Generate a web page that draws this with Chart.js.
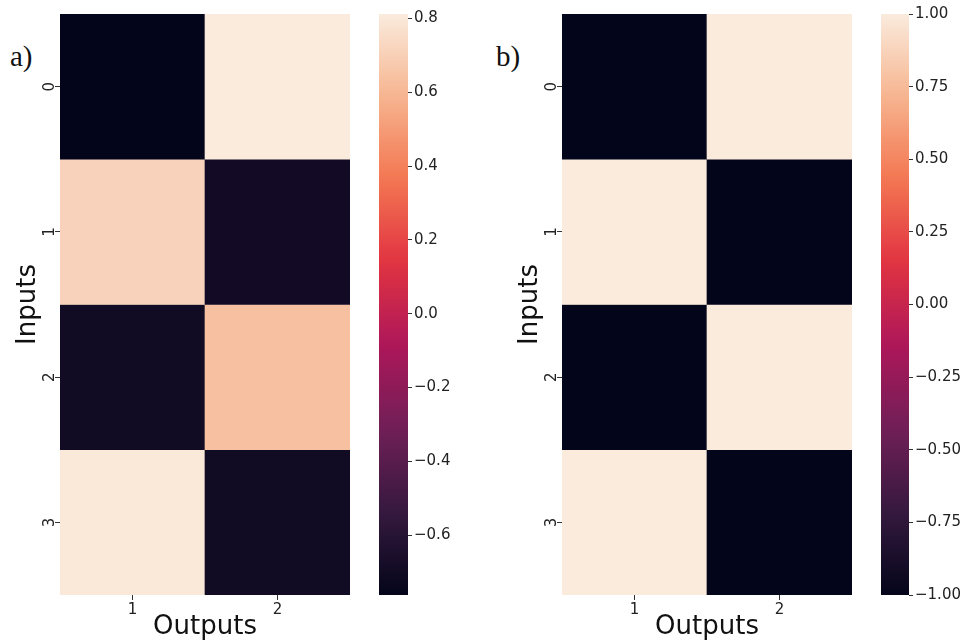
<!DOCTYPE html>
<html>
<head>
<meta charset="utf-8">
<script src="https://cdn.jsdelivr.net/npm/chart.js@4.4.0/dist/chart.umd.min.js"></script>
<style>
body{margin:0;background:#fff;width:965px;height:644px;position:relative;overflow:hidden;}
canvas{position:absolute;top:0;}
.tag{position:absolute;font-family:"Liberation Serif";font-size:29px;color:#111;}
</style>
</head>
<body>
<div class="tag" style="left:10px;top:40px">a)</div>
<div class="tag" style="left:496px;top:40px">b)</div>
<canvas id="heatA" width="355" height="644" style="left:0"></canvas>
<canvas id="barA" width="100" height="644" style="left:370px"></canvas>
<canvas id="heatB" width="355" height="644" style="left:502px"></canvas>
<canvas id="barB" width="93" height="644" style="left:872px"></canvas>
<script>
// heatmap labels and values (rows = inputs, columns = outputs)
const outputs = ["1", "2"];
const inputs = ["0", "1", "2", "3"];
const valsA = [[-0.76, 0.81], [0.71, -0.69], [-0.70, 0.64], [0.80, -0.70]];
const valsB = [[-1, 1], [1, -1], [-1, 1], [1, -1]];
const rangeA = [-0.762, 0.812];
const rangeB = [-1, 1];
const cbTicksA = [-0.6, -0.4, -0.2, 0, 0.2, 0.4, 0.6, 0.8];
const cbTicksB = [-1, -0.75, -0.5, -0.25, 0, 0.25, 0.5, 0.75, 1];

// seaborn "rocket" colormap, rough
const rocketStops = ["#03051a", "#35193e", "#701f57", "#ad1759", "#e13342", "#f37651", "#f6b48f", "#faebdd"];

function hex2rgb(h){
    return [parseInt(h.slice(1,3),16), parseInt(h.slice(3,5),16), parseInt(h.slice(5,7),16)];
}

function rocket(t){
    t = Math.min(1, Math.max(0, t));
    let n = rocketStops.length - 1;
    let i = Math.min(n - 1, Math.floor(t * n));
    let f = t * n - i;
    let a = hex2rgb(rocketStops[i]);
    let b = hex2rgb(rocketStops[i+1]);
    let c = a.map((x, k) => Math.round(x + (b[k] - x) * f));
    return "rgb(" + c.join(",") + ")";
}

const tickFont = {family: "DejaVu Sans", size: 15};
const titleFont = {family: "DejaVu Sans", size: 26};

function heatmap(id, vals, range){
    const datasets = inputs.map((row, r) => ({
        label: "Input " + row,
        data: outputs.map(() => [r, r + 1]),
        backgroundColor: vals[r].map(v => rocket((v - range[0]) / (range[1] - range[0]))),
        borderWidth: 0,
        grouped: false,
        categoryPercentage: 1,
        barPercentage: 1
    }));

    new Chart(document.getElementById(id), {
        type: "bar",
        data: {labels: outputs, datasets: datasets},
        options: {
            responsive: false,
            animation: false,
            layout: {padding: {top: 14, right: 5, left: 0, bottom: 0}},
            plugins: {legend: {display: false}, tooltip: {enabled: false}},
            scales: {
                x: {
                    grid: {offset: false, drawOnChartArea: false, tickLength: 5, color: "#333"},
                    border: {display: false},
                    ticks: {font: tickFont, color: "#222", padding: 1},
                    title: {display: true, text: "Outputs", font: titleFont, color: "#111", padding: {top: 0, bottom: 1}},
                    afterFit: s => { s.height = 49; }
                },
                y: {
                    min: 0,
                    max: 4,
                    reverse: true,
                    afterBuildTicks: s => { s.ticks = inputs.map((t, i) => ({value: i + 0.5})); },
                    grid: {drawOnChartArea: false, tickLength: 5, color: "#333"},
                    border: {display: false},
                    ticks: {font: tickFont, color: "#222", padding: 0, minRotation: 90, maxRotation: 90,
                        crossAlign: "center", callback: (v, i) => inputs[i]},
                    title: {display: true, text: "Inputs", font: titleFont, color: "#111", padding: {top: 13, bottom: 0}},
                    afterFit: s => { s.width = 60; }
                }
            }
        }
    });
}

function colorbar(id, range, tickVals, digits, axisW){
    new Chart(document.getElementById(id), {
        type: "bar",
        data: {
            labels: [""],
            datasets: [{
                data: [range],
                borderWidth: 0,
                categoryPercentage: 1,
                barPercentage: 1,
                backgroundColor: c => {
                    const a = c.chart.chartArea;
                    if (!a) return null;
                    const g = c.chart.ctx.createLinearGradient(0, a.bottom, 0, a.top);
                    for (let k = 0; k <= 40; k++) g.addColorStop(k / 40, rocket(k / 40));
                    return g;
                }
            }]
        },
        options: {
            responsive: false,
            animation: false,
            layout: {padding: {top: 14, bottom: 49, left: 9, right: 0}},
            plugins: {legend: {display: false}, tooltip: {enabled: false}},
            scales: {
                x: {display: false},
                y: {
                    position: "right",
                    min: range[0],
                    max: range[1],
                    afterBuildTicks: s => { s.ticks = tickVals.map(v => ({value: v})); },
                    grid: {drawOnChartArea: false, tickLength: 4, color: "#333"},
                    border: {display: false},
                    ticks: {font: tickFont, color: "#222", padding: 2,
                        callback: v => v.toFixed(digits).replace("-", "\u2212")},
                    afterFit: s => { s.width = axisW; }
                }
            }
        }
    });
}

heatmap("heatA", valsA, rangeA);
colorbar("barA", rangeA, cbTicksA, 1, 62);
heatmap("heatB", valsB, rangeB);
colorbar("barB", rangeB, cbTicksB, 2, 56);
</script>
</body>
</html>
